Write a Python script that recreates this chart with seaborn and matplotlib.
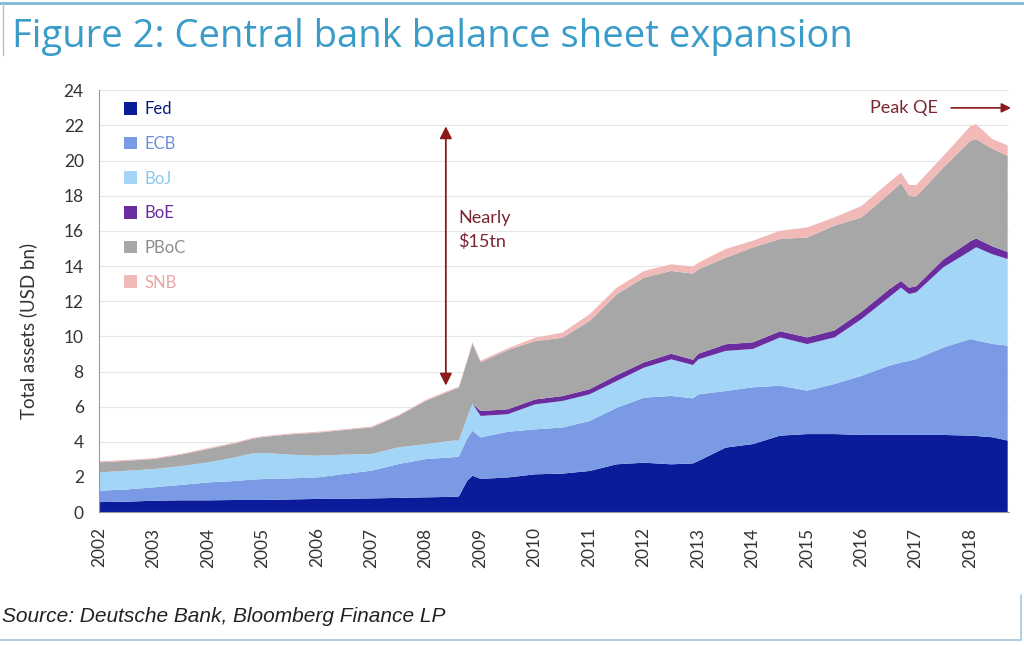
import matplotlib
matplotlib.use("Agg")
import matplotlib.pyplot as plt
import seaborn as sns
import numpy as np
from matplotlib.lines import Line2D

# ---- data (USD tn) ----
years = [2002.0, 2002.5, 2003.0, 2003.5, 2004.0, 2004.5, 2004.8, 2005.0, 2005.5, 2006.0,
         2006.5, 2007.0, 2007.5, 2008.0, 2008.5, 2008.6, 2008.75, 2008.85, 2009.0, 2009.5,
         2010.0, 2010.5, 2011.0, 2011.5, 2012.0, 2012.5, 2012.9, 2013.0, 2013.5, 2014.0,
         2014.5, 2015.0, 2015.5, 2016.0, 2016.5, 2016.72, 2016.87, 2017.0, 2017.5, 2018.0,
         2018.1, 2018.4, 2018.68]
fed = [0.60, 0.62, 0.68, 0.70, 0.70, 0.72, 0.72, 0.72, 0.75, 0.78,
       0.79, 0.81, 0.84, 0.87, 0.90, 0.92, 1.80, 2.10, 1.92, 2.00,
       2.18, 2.22, 2.37, 2.75, 2.84, 2.75, 2.80, 2.94, 3.70, 3.90,
       4.38, 4.47, 4.47, 4.42, 4.42, 4.42, 4.42, 4.42, 4.42, 4.38,
       4.36, 4.29, 4.10]
ecb = [0.65, 0.70, 0.76, 0.88, 1.02, 1.08, 1.16, 1.19, 1.20, 1.22,
       1.41, 1.58, 1.93, 2.18, 2.25, 2.28, 2.40, 2.56, 2.36, 2.60,
       2.56, 2.62, 2.84, 3.22, 3.70, 3.89, 3.70, 3.79, 3.22, 3.23,
       2.84, 2.47, 2.85, 3.37, 3.94, 4.12, 4.22, 4.32, 4.98, 5.50,
       5.44, 5.31, 5.40]
boj = [1.04, 1.06, 1.04, 1.07, 1.14, 1.35, 1.49, 1.49, 1.35, 1.24,
       1.10, 0.95, 0.95, 0.85, 0.95, 0.90, 1.20, 1.54, 1.22, 1.00,
       1.42, 1.51, 1.52, 1.52, 1.71, 2.08, 1.90, 1.99, 2.28, 2.18,
       2.75, 2.65, 2.65, 3.23, 3.89, 4.26, 3.80, 3.79, 4.56, 5.02,
       5.30, 5.10, 4.93]
boe = [0.0, 0.0, 0.0, 0.0, 0.0, 0.0, 0.0, 0.0, 0.0, 0.0,
       0.0, 0.0, 0.0, 0.0, 0.0, 0.0, 0.0, 0.0, 0.28, 0.28,
       0.28, 0.28, 0.29, 0.33, 0.30, 0.32, 0.30, 0.32, 0.38, 0.38,
       0.35, 0.38, 0.40, 0.42, 0.45, 0.38, 0.36, 0.35, 0.45, 0.55,
       0.50, 0.45, 0.40]
pboc = [0.57, 0.57, 0.57, 0.65, 0.76, 0.80, 0.83, 0.90, 1.15, 1.31,
        1.40, 1.51, 1.80, 2.47, 2.90, 3.00, 3.20, 3.40, 2.77, 3.37,
        3.32, 3.32, 3.88, 4.60, 4.82, 4.71, 4.90, 4.80, 4.92, 5.40,
        5.25, 5.69, 5.96, 5.36, 5.43, 5.57, 5.22, 5.10, 5.23, 5.71,
        5.65, 5.55, 5.47]
snb = [0.06, 0.05, 0.05, 0.05, 0.06, 0.05, 0.05, 0.05, 0.05, 0.05,
       0.05, 0.05, 0.05, 0.06, 0.06, 0.06, 0.08, 0.10, 0.10, 0.10,
       0.19, 0.29, 0.38, 0.38, 0.38, 0.38, 0.40, 0.38, 0.50, 0.38,
       0.47, 0.57, 0.47, 0.66, 0.66, 0.60, 0.62, 0.66, 0.66, 0.84,
       0.85, 0.55, 0.60]
labels = ["Fed", "ECB", "BoJ", "BoE", "PBoC", "SNB"]
colors = ["#0a1c9a", "#7a9ae6", "#a3d6f6", "#6a2c9e", "#a7a7a7", "#f2b9b9"]
text_colors = ["#0a1c7a", "#6f8fd8", "#8cc8ee", "#6a2c9e", "#8c8c8c", "#eaa6a6"]
xticks = list(range(2002, 2019))
yticks = list(range(0, 25, 2))

sns.set_style("white")
plt.rcParams["font.family"] = ["Lato", "DejaVu Sans"]

fig = plt.figure(figsize=(10.24, 6.45), dpi=100)
ax = fig.add_axes([0.0967, 0.206, 0.889, 0.654])

ax.stackplot(years, fed, ecb, boj, boe, pboc, snb, labels=labels, colors=colors,
             linewidth=0)

ax.set_xlim(2002, 2018.72)
ax.set_ylim(0, 24)
ax.set_yticks(yticks)
ax.set_xticks(xticks)
ax.set_xticklabels([str(y) for y in xticks], rotation=90)
ax.tick_params(axis="both", labelsize=12.5, length=6, width=0.8,
               direction="out", pad=5, colors="#999999", labelcolor="#333333")
ax.yaxis.grid(True, color="#e6e6e6", linewidth=0.8)
ax.set_axisbelow(True)
for s in ["top", "right"]:
    ax.spines[s].set_visible(False)
for s in ["left", "bottom"]:
    ax.spines[s].set_color("#999999")
    ax.spines[s].set_linewidth(0.8)
ax.set_ylabel("Total assets (USD bn)", fontsize=13.5, color="#333333")
ax.yaxis.set_label_coords(-0.068, 0.43)

leg = ax.legend(loc="upper left", bbox_to_anchor=(0.02, 0.99), frameon=False,
                fontsize=12, handlelength=0.8, handleheight=0.8, labelspacing=1.12,
                handletextpad=0.45, borderaxespad=0)
for t, c in zip(leg.get_texts(), text_colors):
    t.set_color(c)

dark_red = "#8b1a1a"
ax.annotate("", xy=(2008.37, 21.95), xytext=(2008.37, 7.2),
            arrowprops=dict(arrowstyle="<|-|>", color=dark_red, lw=1.3,
                            mutation_scale=18, shrinkA=0, shrinkB=0))
ax.text(2008.6, 16.05, "Nearly\n$15tn", fontsize=13, color="#7a2530", va="center",
        ha="left", linespacing=1.6)
ax.text(2017.4, 23.0, "Peak QE", fontsize=13, color="#7a2530", va="center", ha="right")
ax.annotate("", xy=(2018.75, 23.0), xytext=(2017.65, 23.0),
            arrowprops=dict(arrowstyle="-|>", color=dark_red, lw=1.2,
                            mutation_scale=14, shrinkA=0, shrinkB=0),
            annotation_clip=False)

fig.text(0.012, 0.943, "Figure 2: Central bank balance sheet expansion", fontsize=27.5,
         color="#3a9cc8", family=["Open Sans", "DejaVu Sans"], va="center", ha="left")
fig.text(0.002, 0.044, "Source: Deutsche Bank, Bloomberg Finance LP", fontsize=15,
         style="italic", color="#222222", va="center", ha="left",
         family=["Liberation Sans", "DejaVu Sans"])

# decorative frame lines
fig.add_artist(Line2D([0, 1], [0.995, 0.995], transform=fig.transFigure,
                      color="#7fb6d8", lw=2))
fig.add_artist(Line2D([0.003, 0.003], [0.995, 0.915], transform=fig.transFigure,
                      color="#9cc6e0", lw=1))
fig.add_artist(Line2D([0, 0.997], [0.008, 0.008], transform=fig.transFigure,
                      color="#9fc9dc", lw=1.2))
fig.add_artist(Line2D([0.997, 0.997], [0.008, 0.078], transform=fig.transFigure,
                      color="#9fc9dc", lw=1.2))

fig.savefig("out.png", dpi=100)
